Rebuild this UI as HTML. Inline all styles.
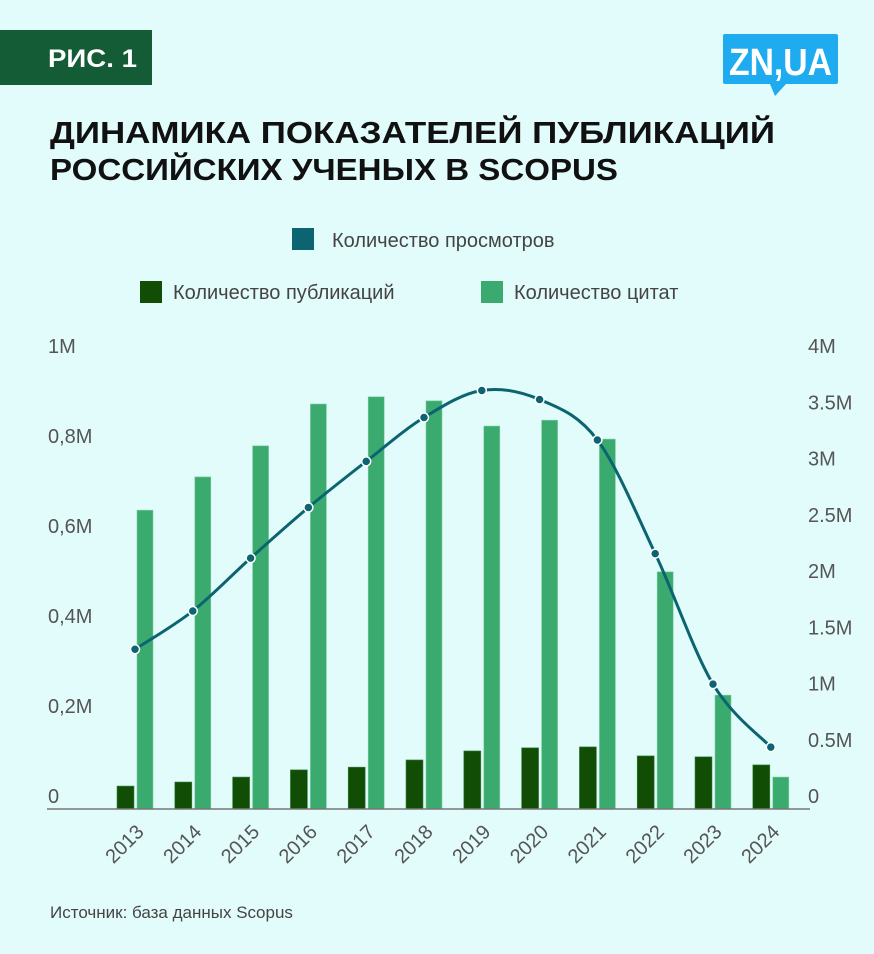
<!DOCTYPE html>
<html><head><meta charset="utf-8"><style>
html,body{margin:0;padding:0;background:#e2fcfb;}
svg{display:block;font-family:"Liberation Sans",sans-serif;}
</style></head><body>
<svg id="c" width="874" height="954" viewBox="0 0 874 954">
<rect x="0" y="0" width="874" height="954" fill="#e2fcfb"/>
<rect x="0" y="30" width="152" height="55" fill="#145c35"/>
<text x="48" y="67" fill="#fff" font-size="25" font-weight="bold" textLength="89" lengthAdjust="spacingAndGlyphs">РИС. 1</text>
<g>
<rect x="723" y="34" width="115" height="50" rx="2" fill="#1fabef"/>
<polygon points="770,84 786,84 775,96" fill="#1fabef"/>
<text x="729" y="75" fill="#fff" font-size="38" font-weight="bold" textLength="103" lengthAdjust="spacingAndGlyphs">ZN,UA</text>
</g>
<text x="50" y="143" fill="#111" font-size="31" font-weight="bold" textLength="725" lengthAdjust="spacingAndGlyphs">ДИНАМИКА ПОКАЗАТЕЛЕЙ ПУБЛИКАЦИЙ</text>
<text x="50" y="180" fill="#111" font-size="31" font-weight="bold" textLength="568" lengthAdjust="spacingAndGlyphs">РОССИЙСКИХ УЧЕНЫХ В SCOPUS</text>
<g>
<g><rect x="292" y="228" width="22" height="22" fill="#0b6470"/><text x="332" y="247" font-size="20" fill="#444">Количество просмотров</text></g>
<g><rect x="140" y="281" width="22" height="22" fill="#114d05"/><text x="173" y="299" font-size="20" fill="#444">Количество публикаций</text></g>
<g><rect x="481" y="281" width="22" height="22" fill="#3aaa6e"/><text x="514" y="299" font-size="20" fill="#444">Количество цитат</text></g>
</g>
<g id="plot"></g>
<text x="50" y="918" font-size="17" fill="#444">Источник: база данных Scopus</text>
</svg>
<script>
const years = ['2013','2014','2015','2016','2017','2018','2019','2020','2021','2022','2023','2024'];
const publications = [0.051,0.06,0.071,0.087,0.093,0.109,0.129,0.136,0.138,0.118,0.116,0.098];
const citations = [0.664,0.738,0.807,0.9,0.916,0.907,0.851,0.864,0.822,0.527,0.253,0.071];
const views = [1.42,1.76,2.23,2.68,3.09,3.48,3.72,3.64,3.28,2.27,1.11,0.55];
const leftTicks = [0,0.2,0.4,0.6,0.8,1];
const leftTickLabels = ['0','0,2M','0,4M','0,6M','0,8M','1M'];
const rightTicks = [0,0.5,1,1.5,2,2.5,3,3.5,4];
const rightTickLabels = ['0','0.5M','1M','1.5M','2M','2.5M','3M','3.5M','4M'];

const NS='http://www.w3.org/2000/svg';
const plotG=document.getElementById('plot');
const basePx=809, yTopPx=359;
const yL=v=>basePx-(basePx-yTopPx)*v/1;
const yR=v=>basePx-(basePx-yTopPx)*v/4;
const xC=i=>135+i*57.8;
function mk(t,a){const e=document.createElementNS(NS,t);for(const k in a)e.setAttribute(k,a[k]);plotG.appendChild(e);return e;}
leftTicks.forEach((v,i)=>{const e=mk('text',{x:48,y:yL(v)-6,'font-size':20,fill:'#555'});e.textContent=leftTickLabels[i];

});
rightTicks.forEach((v,i)=>{const e=mk('text',{x:808,y:yR(v)-6,'font-size':20,fill:'#555'});e.textContent=rightTickLabels[i];

});
years.forEach((y,i)=>{
 const c=xC(i);
 const b1=mk('rect',{x:c-18,y:yL(publications[i]),width:17,height:basePx-yL(publications[i]),fill:'#114d05',stroke:'#3b8a45','stroke-width':0.6});
 
 
 const b2=mk('rect',{x:c+2,y:yL(citations[i]),width:16,height:basePx-yL(citations[i]),fill:'#3aaa6e',stroke:'#7fcfa0','stroke-width':0.6});
 
 
 const t=mk('text',{x:0,y:0,'font-size':20,fill:'#555','text-anchor':'end',transform:`translate(${c+10},${basePx+24}) rotate(-45)`});
 t.textContent=y;
 
 
});
const ax=mk('line',{x1:47,y1:basePx,x2:810,y2:basePx,stroke:'#777','stroke-width':1.5});


const pts=views.map((v,i)=>[xC(i),yR(v)]);
let d=`M${pts[0][0]},${pts[0][1]}`;
for(let i=0;i<pts.length-1;i++){
 const p0=pts[Math.max(0,i-1)],p1=pts[i],p2=pts[i+1],p3=pts[Math.min(pts.length-1,i+2)];
 const c1=[p1[0]+(p2[0]-p0[0])/6,p1[1]+(p2[1]-p0[1])/6];
 const c2=[p2[0]-(p3[0]-p1[0])/6,p2[1]-(p3[1]-p1[1])/6];
 d+=` C${c1[0]},${c1[1]} ${c2[0]},${c2[1]} ${p2[0]},${p2[1]}`;
}
const ln=mk('path',{d:d,fill:'none',stroke:'#0b6470','stroke-width':3});


pts.forEach((p,i)=>{const c=mk('circle',{cx:p[0],cy:p[1],r:4.5,fill:'#0b6470',stroke:'#fff','stroke-width':1.5});

});
</script>
</body></html>
